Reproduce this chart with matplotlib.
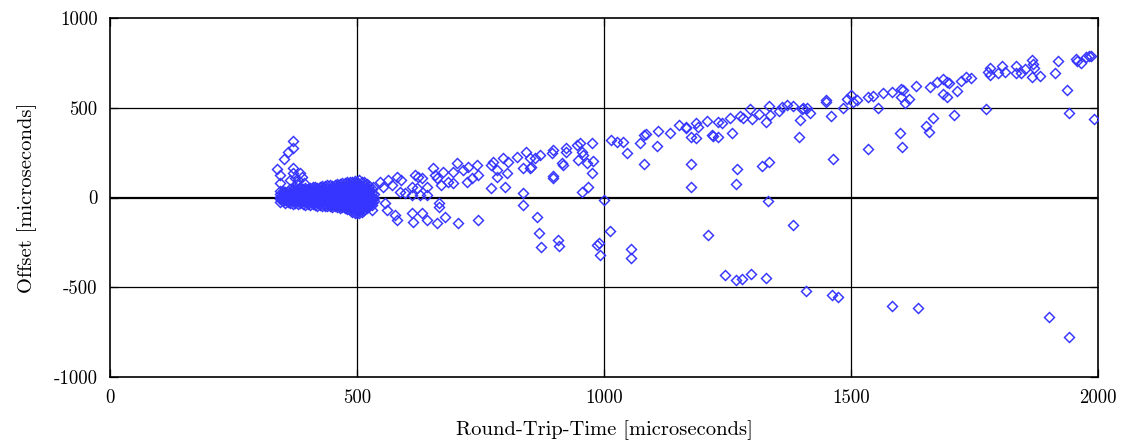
import matplotlib
matplotlib.use("Agg")
import matplotlib.pyplot as plt

# scattered samples (round-trip-time, offset)
rtt = [371, 371, 361, 352, 339, 344, 344, 370, 385, 371, 375, 380, 388, 365, 392, 378,
       533, 547, 553, 563, 570, 580, 590, 587, 597, 611, 617, 624, 631, 621, 641, 641, 628, 611,
       654, 658, 661, 675, 671, 685, 695, 702, 695, 715, 725, 722, 732, 742, 745, 772, 776, 783,
       783, 796, 806, 803, 772, 800, 823, 843, 850, 837, 853, 837, 837, 864,
       530, 557, 560, 577, 580, 611, 614, 631, 641, 665, 665, 678, 661, 705, 745,
       1046, 1080, 1177, 1270, 1319, 1333, 1176, 1267, 1331, 999, 1012, 1211, 1055, 989, 985,
       907, 909, 869, 872, 955, 967, 976, 897, 897, 914, 917, 978, 965, 948, 958, 955, 924, 894,
       870, 860, 850,
       897, 924, 945, 951, 975, 1015, 1026, 1039, 1073, 1080, 1085, 1107, 1109, 1134, 1151, 1166,
       1167, 1177, 1187, 1187, 1190, 1209, 1218, 1221, 1231, 1238, 1231, 1256, 1260, 1275, 1282,
       1296, 1299, 1314, 1328, 1335, 1337, 1355, 1360, 1370, 1383, 1397, 1395, 1403, 1417, 1449,
       1460, 1484, 1505, 1464,
       991, 1054, 1245, 1268, 1280, 1297, 1327, 1383, 1408, 1461, 1473,
       1400, 1410, 1449, 1491, 1501, 1513,
       1535, 1544, 1565, 1582, 1555, 1602, 1606, 1602, 1609, 1618, 1632, 1660, 1675, 1686, 1694,
       1699, 1686, 1694, 1715, 1722, 1733, 1742, 1709, 1665, 1652, 1657, 1599, 1604, 1535, 1773,
       1777, 1781, 1781, 1798, 1805, 1812, 1833, 1833, 1845, 1852, 1866, 1868, 1871, 1866, 1883,
       1912, 1920, 1937, 1941, 1955, 1958, 1966, 1976, 1982, 1985, 1991,
       1584, 1635, 1900, 1941]
offset = [316, 274, 255, 213, 157, 125, 82, 166, 135, 135, 110, 95, 115, 100, 80, 75,
          60, 88, 60, 97, 70, 116, 97, 32, 23, 60, 125, 116, 107, 51, 60, 14, 14, 14,
          163, 125, 107, 144, 70, 88, 79, 190, 144, 153, 172, 88, 107, 181, 125, 181, 200, 153,
          116, 218, 200, 135, 51, 60, 227, 255, 218, 163, 172, 23, -42, -107,
          -70, -32, -70, -97, -125, -88, -135, -88, -125, -32, -51, -107, -144, -144, -125,
          250, 187, 187, 157, 175, 196, 60, 75, -21, -14, -187, -209, -289, -252, -265,
          -237, -270, -196, -274, 32, 57, 138, 120, 107, 190, 181, 205, 194, 209, 237, 255, 255, 246,
          237, 218, 163,
          265, 274, 292, 302, 302, 320, 311, 311, 305, 348, 354, 289, 372, 358, 404, 391,
          385, 339, 413, 330, 394, 428, 348, 343, 422, 417, 335, 445, 361, 454, 441,
          491, 436, 465, 419, 510, 460, 482, 506, 515, 510, 432, 335, 497, 472, 534,
          454, 497, 534, 214,
          -320, -339, -432, -460, -454, -426, -450, -155, -521, -543, -552,
          493, 500, 543, 547, 571, 543,
          558, 565, 580, 586, 500, 603, 599, 562, 528, 547, 623, 617, 642, 660, 642,
          636, 575, 562, 595, 651, 673, 664, 460, 445, 398, 367, 361, 280, 269, 493,
          701, 720, 683, 692, 733, 701, 733, 695, 692, 714, 766, 744, 720, 673, 679,
          692, 762, 599, 469, 770, 762, 748, 781, 788, 788, 436,
          -603, -617, -664, -779]

# dense cluster of samples near 345-535 us, listed column by column
blob_rtt = [345, 350, 355, 360, 365, 370, 375, 380, 385, 390, 395, 400, 405, 410, 415,
            420, 425, 430, 435, 440, 445, 450, 455, 460, 465, 470, 475, 480, 485, 490,
            495, 500, 505, 510, 515, 520, 525, 530, 535]
blob_offset = [
    [-25, -10, 5, 20, 35],
    [-20, -5, 10, 25, 35],
    [-30, -15, 0, 15, 30],
    [-25, -10, 5, 20, 35],
    [-30, -15, 0, 15, 30, 45],
    [-35, -20, -5, 10, 25, 45],
    [-30, -15, 0, 15, 30, 45],
    [-35, -20, -5, 10, 25, 45],
    [-30, -15, 0, 15, 30, 50],
    [-35, -20, -5, 10, 25, 45],
    [-40, -25, -10, 5, 20, 40, 55],
    [-35, -20, -5, 10, 25, 45],
    [-40, -25, -10, 5, 20, 40, 55],
    [-35, -20, -5, 10, 25, 45, 60],
    [-40, -25, -10, 5, 20, 40, 60],
    [-45, -30, -15, 0, 15, 35, 55],
    [-40, -25, -10, 5, 20, 40, 60],
    [-45, -30, -15, 0, 15, 35, 55, 65],
    [-50, -35, -20, -5, 10, 30, 50, 65],
    [-45, -30, -15, 0, 15, 35, 55, 70],
    [-50, -35, -20, -5, 10, 30, 50, 70],
    [-55, -40, -25, -10, 5, 25, 45, 65],
    [-50, -35, -20, -5, 10, 30, 50, 70],
    [-55, -40, -25, -10, 5, 25, 45, 65, 75],
    [-60, -45, -30, -15, 0, 20, 40, 60, 75],
    [-55, -40, -25, -10, 5, 25, 45, 65, 80],
    [-60, -45, -30, -15, 0, 20, 40, 60, 80],
    [-65, -50, -35, -20, -5, 15, 35, 55, 75, 85],
    [-70, -55, -40, -25, -10, 10, 30, 50, 70, 88],
    [-80, -60, -45, -30, -15, 5, 25, 45, 65, 85],
    [-85, -65, -50, -35, -20, 0, 20, 40, 60, 80, 92],
    [-85, -70, -55, -35, -15, 5, 25, 45, 65, 85],
    [-85, -70, -55, -40, -25, -5, 15, 35, 55, 75, 95],
    [-80, -65, -50, -35, -15, 5, 25, 45, 65, 85],
    [-70, -55, -40, -25, -10, 10, 30, 50, 70, 85],
    [-60, -45, -30, -15, 0, 20, 40, 60, 75],
    [-50, -35, -20, -5, 10, 30, 50, 65],
    [-40, -25, -10, 5, 25, 45],
    [-20, 0, 20],
]

x_ticks = [0, 500, 1000, 1500, 2000]
x_tick_labels = ["0", "500", "1000", "1500", "2000"]
y_ticks = [-1000, -500, 0, 500, 1000]
y_tick_labels = ["-1000", "-500", "0", "500", "1000"]

plt.rcParams["font.family"] = ["cmr10", "DejaVu Serif"]
plt.rcParams["axes.formatter.use_mathtext"] = True

fig = plt.figure(figsize=(11.23, 4.46), dpi=100)
ax = fig.add_axes([110 / 1123, 1 - 377 / 446, 988 / 1123, 359 / 446])

blue = "#3535ff"
# grid lines first so the markers sit on top
for gx in x_ticks[1:-1]:
    ax.axvline(gx, color="black", lw=0.9, zorder=1)
for gy in y_ticks[1:-1]:
    ax.axhline(gy, color="black", lw=1.6 if gy == 0 else 0.9, zorder=1)

bx, by = [], []
for x, col in zip(blob_rtt, blob_offset):
    for y in col:
        bx.append(x)
        by.append(y)

style = dict(ls="none", marker="D", ms=5.0, mfc="none", mec=blue, mew=1.05, zorder=3)
ax.plot(bx, by, **style)
ax.plot(rtt, offset, **style)

ax.set_xlim(0, 2000)
ax.set_ylim(-1000, 1000)
ax.set_xticks(x_ticks)
ax.set_xticklabels(x_tick_labels)
ax.set_yticks(y_ticks)
ax.set_yticklabels(y_tick_labels)
ax.tick_params(direction="in", length=6, width=0.9, top=True, right=True,
               labelsize=13.5, pad=9)
for s in ax.spines.values():
    s.set_linewidth(1.2)

ax.set_xlabel("Round-Trip-Time [microseconds]", fontsize=14.8, labelpad=9)
ax.set_ylabel("Offset [microseconds]", fontsize=14.8, labelpad=12)

fig.savefig("out.png", dpi=100)
